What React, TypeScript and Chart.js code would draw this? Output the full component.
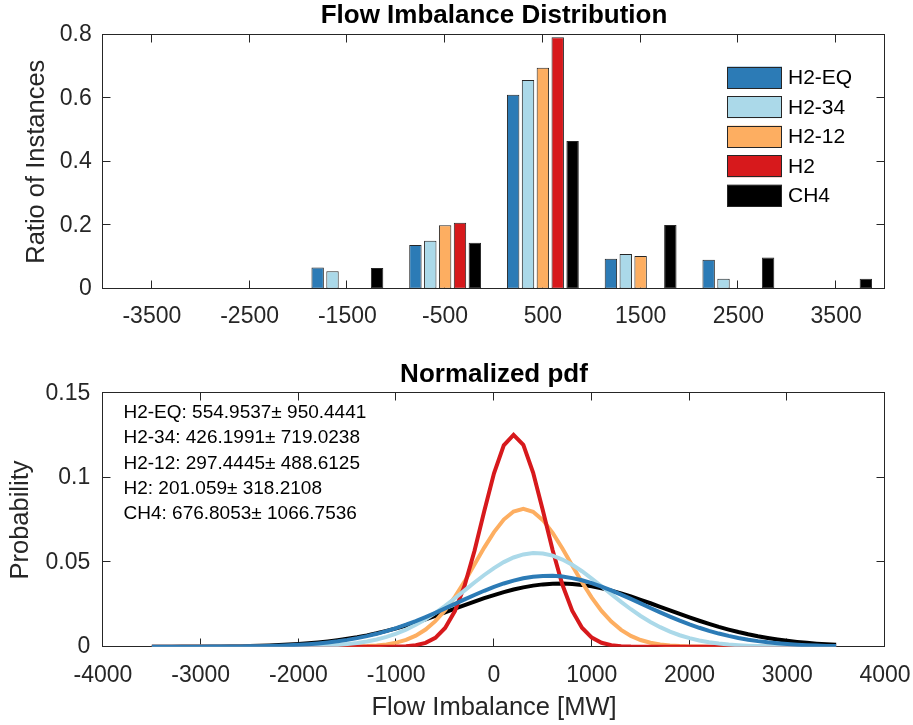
import React, { useEffect, useRef } from 'react';
import { Chart, registerables } from 'chart.js';

Chart.register(...registerables);

const FONT = "'Liberation Sans', Arial, Helvetica, sans-serif";
const AXIS_COLOR = '#262626';

// ---------- series ----------
const seriesNames = ['H2-EQ', 'H2-34', 'H2-12', 'H2', 'CH4'];
const seriesColors = ['#2c7bb6', '#abd9e9', '#fdae61', '#d7191c', '#000000'];

// ---------- top: histogram ----------
const binLabels = ['-3500', '-2500', '-1500', '-500', '500', '1500', '2500', '3500'];
const barH2EQ = [0, 0, 0.067, 0.138, 0.611, 0.094, 0.091, 0];
const barH234 = [0, 0, 0.055, 0.151, 0.657, 0.109, 0.031, 0];
const barH212 = [0, 0, 0, 0.2, 0.696, 0.103, 0, 0];
const barH2 = [0, 0, 0, 0.208, 0.792, 0, 0, 0];
const barCH4 = [0, 0, 0.065, 0.145, 0.465, 0.201, 0.098, 0.031];

// ---------- bottom: normalized pdf ----------
const pdfX = [
  -3500, -3400, -3300, -3200, -3100, -3000, -2900, -2800, -2700, -2600,
  -2500, -2400, -2300, -2200, -2100, -2000, -1900, -1800, -1700, -1600,
  -1500, -1400, -1300, -1200, -1100, -1000, -900, -800, -700, -600,
  -500, -400, -300, -200, -100, 0, 100, 200, 300, 400,
  500, 600, 700, 800, 900, 1000, 1100, 1200, 1300, 1400,
  1500, 1600, 1700, 1800, 1900, 2000, 2100, 2200, 2300, 2400,
  2500, 2600, 2700, 2800, 2900, 3000, 3100, 3200, 3300, 3400, 3500,
];
const pdfH2EQ = [
  0.0, 0.00001, 0.00001, 0.00002, 0.00003, 0.00004, 0.00006, 0.00008, 0.00012, 0.00017,
  0.00024, 0.00033, 0.00046, 0.00063, 0.00085, 0.00113, 0.00149, 0.00195, 0.00252, 0.00321,
  0.00405, 0.00506, 0.00625, 0.00763, 0.00922, 0.01101, 0.01301, 0.01519, 0.01756, 0.02006,
  0.02267, 0.02534, 0.02801, 0.03062, 0.0331, 0.0354, 0.03743, 0.03915, 0.04049, 0.04142,
  0.04191, 0.04193, 0.04149, 0.0406, 0.0393, 0.03762, 0.03561, 0.03334, 0.03087, 0.02827,
  0.02561, 0.02293, 0.02032, 0.0178, 0.01542, 0.01321, 0.0112, 0.00939, 0.00778, 0.00638,
  0.00517, 0.00415, 0.00329, 0.00258, 0.002, 0.00153, 0.00116, 0.00087, 0.00065, 0.00048, 0.00035,
];
const pdfH234 = [
  0, 0, 0, 0, 0, 0, 0, 0, 0, 0.00001,
  0.00001, 0.00002, 0.00004, 0.00007, 0.00012, 0.00019, 0.0003, 0.00046, 0.0007, 0.00105,
  0.00153, 0.00221, 0.00311, 0.0043, 0.00583, 0.00776, 0.01013, 0.01296, 0.01627, 0.02004,
  0.0242, 0.02867, 0.03332, 0.03797, 0.04245, 0.04655, 0.05006, 0.05281, 0.05464, 0.05545,
  0.05519, 0.05389, 0.0516, 0.04847, 0.04466, 0.04035, 0.03577, 0.03109, 0.02651, 0.02218,
  0.01819, 0.01464, 0.01155, 0.00894, 0.00679, 0.00506, 0.00369, 0.00265, 0.00186, 0.00128,
  0.00087, 0.00058, 0.00037, 0.00024, 0.00015, 0.00009, 0.00006, 0.00003, 0.00002, 0.00001, 0.00001,
];
const pdfH212 = [
  0, 0, 0, 0, 0, 0, 0, 0, 0, 0,
  0, 0, 0, 0, 0, 0, 0, 0, 0, 0.00004,
  0.00009, 0.0002, 0.00039, 0.00075, 0.00137, 0.0024, 0.00405, 0.00655, 0.01016, 0.01512,
  0.02156, 0.02948, 0.03866, 0.04863, 0.05865, 0.06784, 0.07525, 0.08004, 0.08165, 0.07987,
  0.07493, 0.0674, 0.05815, 0.04811, 0.03817, 0.02904, 0.02119, 0.01483, 0.00995, 0.0064,
  0.00395, 0.00234, 0.00133, 0.00072, 0.00038, 0.00019, 0.00009, 0.00004, 0.00002, 0,
  0, 0, 0, 0, 0, 0, 0, 0, 0, 0, 0,
];
const pdfH2 = [
  0, 0, 0, 0, 0, 0, 0, 0, 0, 0,
  0, 0, 0, 0, 0, 0, 0, 0, 0, 0,
  0, 0, 0, 0, 0.00003, 0.0001, 0.00031, 0.00089, 0.00228, 0.00527,
  0.01108, 0.02106, 0.03629, 0.05666, 0.08014, 0.10269, 0.11921, 0.12537, 0.11946, 0.10312,
  0.08064, 0.05714, 0.03667, 0.02133, 0.01124, 0.00536, 0.00232, 0.00091, 0.00032, 0.0001,
  0.00003, 0, 0, 0, 0, 0, 0, 0, 0, 0,
  0, 0, 0, 0, 0, 0, 0, 0, 0, 0, 0,
];
const pdfCH4 = [
  0.00002, 0.00003, 0.00004, 0.00005, 0.00007, 0.0001, 0.00014, 0.00018, 0.00025, 0.00033,
  0.00044, 0.00058, 0.00076, 0.00099, 0.00126, 0.00161, 0.00202, 0.00252, 0.00312, 0.00383,
  0.00466, 0.00562, 0.00672, 0.00796, 0.00934, 0.01087, 0.01254, 0.01434, 0.01626, 0.01827,
  0.02035, 0.02247, 0.02459, 0.02668, 0.02869, 0.03058, 0.03231, 0.03384, 0.03514, 0.03616,
  0.03689, 0.0373, 0.03739, 0.03715, 0.03659, 0.03572, 0.03457, 0.03316, 0.03153, 0.02972,
  0.02777, 0.02572, 0.02361, 0.02148, 0.01938, 0.01733, 0.01536, 0.01349, 0.01175, 0.01015,
  0.00868, 0.00736, 0.00619, 0.00516, 0.00426, 0.00349, 0.00283, 0.00228, 0.00182, 0.00144, 0.00113,
];
const statMeans = ['554.9537', '426.1991', '297.4445', '201.059', '676.8053'];
const statStds = ['950.4441', '719.0238', '488.6125', '318.2108', '1066.7536'];

// drawing order for the pdf lines (lower = on top)
const lineOrder = [0, 1, 3, 2, 4];

const fmt = (v: number) => String(Math.round(v * 1000) / 1000);

// inward ticks + box frame, MATLAB style
const framePlugin = {
  id: 'matlabFrame',
  beforeDatasetsDraw(chart: any) {
    const { ctx, chartArea } = chart;
    const L = Math.round(chartArea.left) - 0.5;
    const R = Math.round(chartArea.right) - 0.5;
    const T = Math.round(chartArea.top) - 0.5;
    const B = Math.round(chartArea.bottom) - 0.5;
    const tl = 8;
    ctx.save();
    ctx.strokeStyle = AXIS_COLOR;
    ctx.lineWidth = 1;
    ctx.strokeRect(L, T, R - L, B - T);
    const xs = chart.scales.x;
    const ys = chart.scales.y;
    ctx.beginPath();
    xs.ticks.forEach((_: any, i: number) => {
      const p = Math.round(xs.getPixelForTick(i)) - 0.5;
      ctx.moveTo(p, B); ctx.lineTo(p, B - tl);
      ctx.moveTo(p, T); ctx.lineTo(p, T + tl);
    });
    ys.ticks.forEach((_: any, i: number) => {
      const p = Math.round(ys.getPixelForTick(i)) - 0.5;
      ctx.moveTo(L, p); ctx.lineTo(L + tl, p);
      ctx.moveTo(R, p); ctx.lineTo(R - tl, p);
    });
    ctx.stroke();
    ctx.restore();
  },
};

const legendPlugin = {
  id: 'insideLegend',
  afterDatasetsDraw(chart: any) {
    const { ctx, chartArea } = chart;
    const x0 = chartArea.right - 158;
    const w = 55;
    const h = 22;
    const y0 = chartArea.top + 43;
    const step = 29.5;
    ctx.save();
    ctx.font = `21px ${FONT}`;
    ctx.textBaseline = 'middle';
    ctx.textAlign = 'left';
    seriesNames.forEach((name, i) => {
      const cy = y0 + i * step;
      ctx.fillStyle = seriesColors[i];
      ctx.fillRect(x0, cy - h / 2, w, h);
      ctx.strokeStyle = '#262626';
      ctx.lineWidth = 1;
      ctx.strokeRect(x0 + 0.5, Math.round(cy - h / 2) + 0.5, w - 1, h - 1);
      ctx.fillStyle = '#000';
      ctx.fillText(name, x0 + w + 6, cy + 1);
    });
    ctx.restore();
  },
};

const statsPlugin = {
  id: 'statsText',
  afterDatasetsDraw(chart: any) {
    const { ctx, chartArea } = chart;
    ctx.save();
    ctx.font = `19px ${FONT}`;
    ctx.textBaseline = 'middle';
    ctx.textAlign = 'left';
    ctx.fillStyle = '#000';
    seriesNames.forEach((name, i) => {
      ctx.fillText(`${name}: ${statMeans[i]}\u00b1 ${statStds[i]}`, chartArea.left + 20.5, chartArea.top + 19.7 + i * 25.25);
    });
    ctx.restore();
  },
};

const tickFont = { family: FONT, size: 23 };
const labelFont = { family: FONT, size: 25.5, lineHeight: 1.2 };
const titleFont = { family: FONT, size: 26, weight: 'bold' as const, lineHeight: 1.2 };

export default function App() {
  const topRef = useRef<HTMLCanvasElement>(null);
  const botRef = useRef<HTMLCanvasElement>(null);

  useEffect(() => {
    const barSeries = [barH2EQ, barH234, barH212, barH2, barCH4];
    const top = new Chart(topRef.current as HTMLCanvasElement, {
      type: 'bar',
      data: {
        labels: binLabels,
        datasets: barSeries.map((d, i) => ({
          label: seriesNames[i],
          data: d,
          backgroundColor: seriesColors[i],
          borderColor: '#262626',
          borderWidth: 1,
          borderSkipped: false,
          categoryPercentage: 0.76,
          barPercentage: 0.835,
        })),
      },
      options: {
        animation: false,
        responsive: false,
        events: [],
        layout: { padding: { left: 0, right: 28, top: 0, bottom: 0 } },
        plugins: {
          legend: { display: false },
          tooltip: { enabled: false },
          title: {
            display: true,
            fullSize: false,
            text: 'Flow Imbalance Distribution',
            color: '#000',
            font: titleFont,
            padding: { top: 0.6, bottom: 2.9 },
          },
        },
        scales: {
          x: {
            type: 'category',
            offset: true,
            grid: { display: false, drawTicks: true, tickLength: 14 },
            border: { display: false },
            ticks: { color: AXIS_COLOR, font: tickFont, padding: 0, maxRotation: 0, autoSkip: false },
            afterFit: (s: any) => { s.height = 51.3; s.paddingLeft = 0; s.paddingRight = 0; },
          },
          y: {
            type: 'linear',
            min: 0,
            max: 0.8,
            grid: { display: false, drawTicks: false },
            border: { display: false },
            ticks: { stepSize: 0.2, color: AXIS_COLOR, font: tickFont, padding: 11.3, callback: (v: any) => fmt(Number(v)) },
            title: { display: true, text: 'Ratio of Instances', color: AXIS_COLOR, font: labelFont, padding: { top: 21.7, bottom: 0 } },
            afterFit: (s: any) => { s.width = 103; },
          },
        },
      },
      plugins: [framePlugin, legendPlugin],
    } as any);

    const pdfSeries = [pdfH2EQ, pdfH234, pdfH212, pdfH2, pdfCH4];
    const bot = new Chart(botRef.current as HTMLCanvasElement, {
      type: 'line',
      data: {
        datasets: pdfSeries.map((d, i) => ({
          label: seriesNames[i],
          data: pdfX.map((x, j) => ({ x, y: d[j] })),
          borderColor: seriesColors[i],
          backgroundColor: seriesColors[i],
          borderWidth: 4,
          pointRadius: 0,
          tension: 0,
          fill: false,
          order: lineOrder[i],
        })),
      },
      options: {
        animation: false,
        responsive: false,
        events: [],
        layout: { padding: { left: 0, right: 28, top: 0, bottom: 0 } },
        plugins: {
          legend: { display: false },
          tooltip: { enabled: false },
          title: {
            display: true,
            fullSize: false,
            text: 'Normalized pdf',
            color: '#000',
            font: titleFont,
            padding: { top: 19.4, bottom: 2.7 },
          },
        },
        scales: {
          x: {
            type: 'linear',
            min: -4000,
            max: 4000,
            grid: { display: false, drawTicks: true, tickLength: 15 },
            border: { display: false },
            ticks: { stepSize: 1000, color: AXIS_COLOR, font: tickFont, padding: 0, maxRotation: 0, callback: (v: any) => String(Math.round(Number(v))) },
            title: { display: true, text: 'Flow Imbalance [MW]', color: AXIS_COLOR, font: labelFont, padding: { top: 0, bottom: 1.4 } },
            afterFit: (s: any) => { s.height = 78.3; s.paddingLeft = 0; s.paddingRight = 0; },
          },
          y: {
            type: 'linear',
            min: 0,
            max: 0.15,
            grid: { display: false, drawTicks: false },
            border: { display: false },
            ticks: { stepSize: 0.05, color: AXIS_COLOR, font: tickFont, padding: 12.7, callback: (v: any) => fmt(Number(v)) },
            title: { display: true, text: 'Probability', color: AXIS_COLOR, font: labelFont, padding: { top: 5.7, bottom: 0 } },
            afterFit: (s: any) => { s.width = 103; },
          },
        },
      },
      plugins: [framePlugin, statsPlugin],
    } as any);

    return () => {
      top.destroy();
      bot.destroy();
    };
  }, []);

  return (
    <div style={{ position: 'absolute', left: 0, top: 0, width: 913, height: 725, background: '#fff' }}>
      <canvas ref={topRef} width={913} height={340} style={{ display: 'block' }} />
      <canvas ref={botRef} width={913} height={385} style={{ display: 'block' }} />
    </div>
  );
}
